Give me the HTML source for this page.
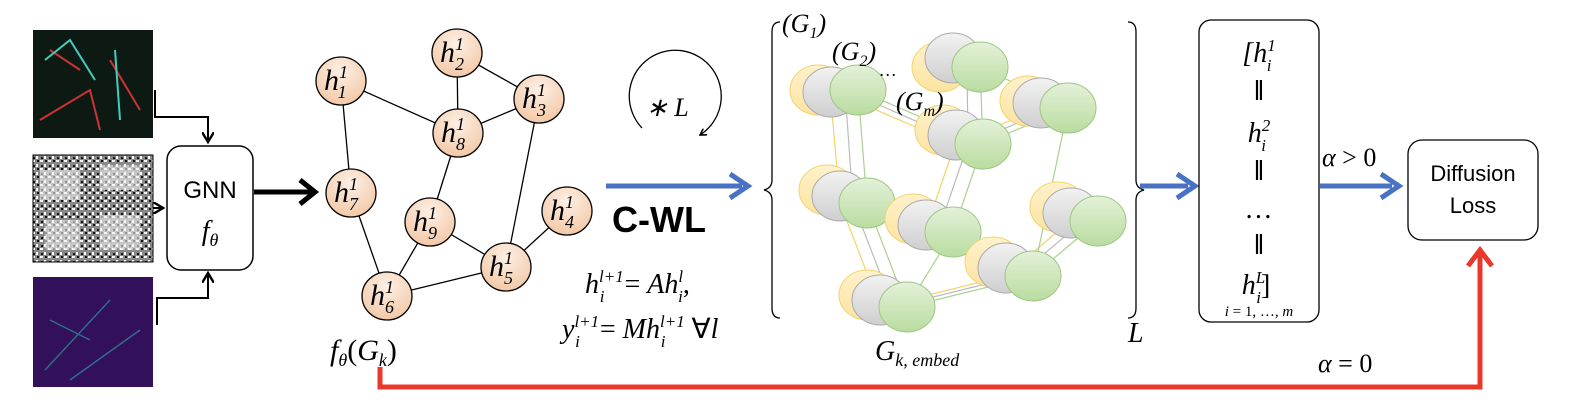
<!DOCTYPE html>
<html><head><meta charset="utf-8"><style>
body{margin:0;background:#fff;width:1580px;height:415px;overflow:hidden}
svg{display:block}
text{font-family:"Liberation Serif",serif;font-style:italic;fill:#000}
.s{font-family:"Liberation Sans",sans-serif;font-style:normal}
</style></head><body>
<svg width="1580" height="415" viewBox="0 0 1580 415">
<defs>
<radialGradient id="og" cx="50%" cy="30%" r="70%"><stop offset="0" stop-color="#fdf0e6"/><stop offset="1" stop-color="#f3c8a6"/></radialGradient>
<linearGradient id="gg" x1="0" y1="0" x2="0" y2="1"><stop offset="0" stop-color="#e4f1d9"/><stop offset="1" stop-color="#b9dca0"/></linearGradient>
<linearGradient id="yg" x1="0" y1="0" x2="0" y2="1"><stop offset="0" stop-color="#fff2cc"/><stop offset="1" stop-color="#fbe3a0"/></linearGradient>
<linearGradient id="gr" x1="0" y1="0" x2="0" y2="1"><stop offset="0" stop-color="#f2f2f2"/><stop offset="1" stop-color="#cfcfcf"/></linearGradient>
<pattern id="noise" width="8" height="8" patternUnits="userSpaceOnUse"><rect width="8" height="8" fill="#888"/><rect x="0" y="0" width="3" height="2" fill="#fff"/><rect x="4" y="4" width="2" height="3" fill="#fff"/><rect x="5" y="0" width="2" height="2" fill="#111"/><rect x="1" y="5" width="2" height="2" fill="#111"/></pattern>
<marker id="bk" markerWidth="6" markerHeight="6" refX="5" refY="3" orient="auto"><path d="M0,0 L5,3 L0,6" fill="none" stroke="#000" stroke-width="1.2"/></marker>
</defs>
<!-- input images -->
<rect x="33" y="30" width="120" height="108" fill="#0d1a14"/>
<path d="M40,120 L90,90 L100,130 M110,60 L140,110 M50,50 L80,70" stroke="#c33" stroke-width="2" fill="none"/>
<path d="M45,60 L70,40 L95,80 M115,50 L120,120" stroke="#4cb" stroke-width="2" fill="none"/>
<rect x="33" y="155" width="120" height="107" fill="url(#noise)" stroke="#000"/>
<path d="M40,170 h40 v30 h-40z M100,165 h40 v25 h-40z M45,220 h35 v30 h-35z M100,215 h40 v35 h-40z" fill="#eee" opacity="0.6"/>
<rect x="33" y="277" width="120" height="110" fill="#33105a"/>
<path d="M45,370 L110,300 M70,380 L140,330 M50,320 L90,340" stroke="#2d6e8a" stroke-width="1.5"/>
<!-- connectors -->
<path d="M155,90 V117 H208 V142" fill="none" stroke="#000" stroke-width="2" marker-end="url(#bk)"/>
<path d="M153,208 H163" stroke="#000" stroke-width="2" marker-end="url(#bk)"/>
<path d="M157,325 V298 H208 V273" fill="none" stroke="#000" stroke-width="2" marker-end="url(#bk)"/>
<rect x="167" y="146" width="86" height="124" rx="14" fill="#fff" stroke="#000" stroke-width="1.5"/>
<text class="s" x="210" y="198" font-size="24" text-anchor="middle">GNN</text>
<text x="210" y="240" font-size="28" text-anchor="middle">f<tspan font-size="18" dy="6">θ</tspan></text>
<path d="M254,192 H312" stroke="#000" stroke-width="5"/>
<path d="M300,180 L315,192 L300,204" fill="none" stroke="#000" stroke-width="5"/>
<!-- graph -->
<g stroke="#000" stroke-width="1.3">
<line x1="341" y1="81" x2="351" y2="193"/><line x1="341" y1="81" x2="458" y2="133"/>
<line x1="457" y1="53" x2="458" y2="133"/><line x1="457" y1="53" x2="539" y2="99"/>
<line x1="458" y1="133" x2="539" y2="99"/><line x1="539" y1="99" x2="506" y2="267"/>
<line x1="458" y1="133" x2="430" y2="222"/><line x1="430" y1="222" x2="387" y2="296"/>
<line x1="430" y1="222" x2="506" y2="267"/><line x1="351" y1="193" x2="387" y2="296"/>
<line x1="387" y1="296" x2="506" y2="267"/><line x1="506" y1="267" x2="567" y2="211"/>
</g>
<g font-size="30">
<g><ellipse cx="341" cy="81" rx="25" ry="24" fill="url(#og)" stroke="#000" stroke-width="1.3"/><text x="324" y="90">h<tspan font-size="18" dy="-12">1</tspan><tspan font-size="18" dx="-9" dy="20">1</tspan></text></g>
<g><ellipse cx="457" cy="53" rx="25" ry="24" fill="url(#og)" stroke="#000" stroke-width="1.3"/><text x="440" y="62">h<tspan font-size="18" dy="-12">1</tspan><tspan font-size="18" dx="-9" dy="20">2</tspan></text></g>
<g><ellipse cx="539" cy="99" rx="25" ry="24" fill="url(#og)" stroke="#000" stroke-width="1.3"/><text x="522" y="108">h<tspan font-size="18" dy="-12">1</tspan><tspan font-size="18" dx="-9" dy="20">3</tspan></text></g>
<g><ellipse cx="458" cy="133" rx="25" ry="24" fill="url(#og)" stroke="#000" stroke-width="1.3"/><text x="441" y="142">h<tspan font-size="18" dy="-12">1</tspan><tspan font-size="18" dx="-9" dy="20">8</tspan></text></g>
<g><ellipse cx="351" cy="193" rx="25" ry="24" fill="url(#og)" stroke="#000" stroke-width="1.3"/><text x="334" y="202">h<tspan font-size="18" dy="-12">1</tspan><tspan font-size="18" dx="-9" dy="20">7</tspan></text></g>
<g><ellipse cx="430" cy="222" rx="25" ry="24" fill="url(#og)" stroke="#000" stroke-width="1.3"/><text x="413" y="231">h<tspan font-size="18" dy="-12">1</tspan><tspan font-size="18" dx="-9" dy="20">9</tspan></text></g>
<g><ellipse cx="567" cy="211" rx="25" ry="24" fill="url(#og)" stroke="#000" stroke-width="1.3"/><text x="550" y="220">h<tspan font-size="18" dy="-12">1</tspan><tspan font-size="18" dx="-9" dy="20">4</tspan></text></g>
<g><ellipse cx="506" cy="267" rx="25" ry="24" fill="url(#og)" stroke="#000" stroke-width="1.3"/><text x="489" y="276">h<tspan font-size="18" dy="-12">1</tspan><tspan font-size="18" dx="-9" dy="20">5</tspan></text></g>
<g><ellipse cx="387" cy="296" rx="25" ry="24" fill="url(#og)" stroke="#000" stroke-width="1.3"/><text x="370" y="305">h<tspan font-size="18" dy="-12">1</tspan><tspan font-size="18" dx="-9" dy="20">6</tspan></text></g>
</g>
<text x="330" y="360" font-size="30">f<tspan font-size="18" dy="6">θ</tspan><tspan dy="-6" font-style="normal">(</tspan><tspan>G</tspan><tspan font-size="18" dy="6">k</tspan><tspan dy="-6" font-style="normal">)</tspan></text>
<!-- loop -->
<path d="M642,128 A46,46 0 1,1 700,135" fill="none" stroke="#000" stroke-width="1.3" marker-end="url(#bk)"/>
<text x="646" y="116" font-size="26">∗ L</text>
<path d="M606,186 H742" stroke="#4a72c4" stroke-width="5"/>
<path d="M730,174 L748,186 L730,198" fill="none" stroke="#4a72c4" stroke-width="5"/>
<text class="s" x="612" y="232" font-size="36" font-weight="bold">C-WL</text>
<text x="585" y="293" font-size="28">h<tspan font-size="17" dy="-11">l+1</tspan><tspan font-size="17" dx="-24" dy="20">i</tspan><tspan dx="20" dy="-9" font-style="normal">= </tspan><tspan>Ah</tspan><tspan font-size="17" dy="-11">l</tspan><tspan font-size="17" dx="-5" dy="20">i</tspan><tspan dy="-9" font-style="normal">,</tspan></text>
<text x="562" y="338" font-size="28">y<tspan font-size="17" dy="-11">l+1</tspan><tspan font-size="17" dx="-24" dy="20">i</tspan><tspan dx="20" dy="-9" font-style="normal">= </tspan><tspan>Mh</tspan><tspan font-size="17" dy="-11">l+1</tspan><tspan font-size="17" dx="-24" dy="20">i</tspan><tspan dx="26" dy="-9" font-style="normal">∀</tspan><tspan>l</tspan></text>
<!-- braces -->
<path d="M780,22 Q772,22 772,32 V180 Q772,188 764,190 Q772,192 772,200 V308 Q772,318 780,318" fill="none" stroke="#000" stroke-width="1.3"/>
<path d="M1128,22 Q1136,22 1136,32 V180 Q1136,188 1144,190 Q1136,192 1136,200 V308 Q1136,318 1128,318" fill="none" stroke="#000" stroke-width="1.3"/>
<text x="1128" y="342" font-size="28">L</text>
<!-- 3D cluster -->
<g stroke-width="1.2" fill="none">
<path d="M830,90 L840,203 L880,307 L1005,276 L1070,221 M840,203 L925,232 L955,144 L1040,108 M830,90 L955,144" stroke="#f5d36a"/>
<path d="M845,90 L853,203 L893,307 L1018,276 L1083,221 M853,203 L938,232 L968,144 L1053,108 M845,90 L968,144 M967,67 L968,144" stroke="#bbb"/>
<path d="M858,90 L867,203 L907,307 L1033,276 L1098,221 M867,203 L953,232 L983,144 L1068,108 M858,90 L983,144 M980,67 L983,144 M980,67 L1068,108 M1068,108 L1033,276 M907,307 L953,232" stroke="#a9d18e"/>
</g>
<g stroke-width="1">
<g><ellipse cx="818" cy="90" rx="28" ry="25" fill="url(#yg)" stroke="#f5d36a"/><ellipse cx="831" cy="92" rx="28" ry="25" fill="url(#gr)" stroke="#aaa"/><ellipse cx="858" cy="90" rx="28" ry="25" fill="url(#gg)" stroke="#9cc781"/></g>
<g><ellipse cx="940" cy="67" rx="28" ry="25" fill="url(#yg)" stroke="#f5d36a"/><ellipse cx="953" cy="58" rx="28" ry="25" fill="url(#gr)" stroke="#aaa"/><ellipse cx="980" cy="67" rx="28" ry="25" fill="url(#gg)" stroke="#9cc781"/></g>
<g><ellipse cx="1028" cy="101" rx="28" ry="25" fill="url(#yg)" stroke="#f5d36a"/><ellipse cx="1041" cy="103" rx="28" ry="25" fill="url(#gr)" stroke="#aaa"/><ellipse cx="1068" cy="108" rx="28" ry="25" fill="url(#gg)" stroke="#9cc781"/></g>
<g><ellipse cx="943" cy="130" rx="28" ry="25" fill="url(#yg)" stroke="#f5d36a"/><ellipse cx="956" cy="135" rx="28" ry="25" fill="url(#gr)" stroke="#aaa"/><ellipse cx="983" cy="144" rx="28" ry="25" fill="url(#gg)" stroke="#9cc781"/></g>
<g><ellipse cx="827" cy="190" rx="28" ry="25" fill="url(#yg)" stroke="#f5d36a"/><ellipse cx="840" cy="196" rx="28" ry="25" fill="url(#gr)" stroke="#aaa"/><ellipse cx="867" cy="203" rx="28" ry="25" fill="url(#gg)" stroke="#9cc781"/></g>
<g><ellipse cx="913" cy="219" rx="28" ry="25" fill="url(#yg)" stroke="#f5d36a"/><ellipse cx="926" cy="225" rx="28" ry="25" fill="url(#gr)" stroke="#aaa"/><ellipse cx="953" cy="232" rx="28" ry="25" fill="url(#gg)" stroke="#9cc781"/></g>
<g><ellipse cx="1058" cy="207" rx="28" ry="25" fill="url(#yg)" stroke="#f5d36a"/><ellipse cx="1071" cy="213" rx="28" ry="25" fill="url(#gr)" stroke="#aaa"/><ellipse cx="1098" cy="221" rx="28" ry="25" fill="url(#gg)" stroke="#9cc781"/></g>
<g><ellipse cx="993" cy="262" rx="28" ry="25" fill="url(#yg)" stroke="#f5d36a"/><ellipse cx="1006" cy="268" rx="28" ry="25" fill="url(#gr)" stroke="#aaa"/><ellipse cx="1033" cy="276" rx="28" ry="25" fill="url(#gg)" stroke="#9cc781"/></g>
<g><ellipse cx="867" cy="295" rx="28" ry="25" fill="url(#yg)" stroke="#f5d36a"/><ellipse cx="880" cy="300" rx="28" ry="25" fill="url(#gr)" stroke="#aaa"/><ellipse cx="907" cy="307" rx="28" ry="25" fill="url(#gg)" stroke="#9cc781"/></g>
</g>
<text x="782" y="32" font-size="26" font-style="normal">(<tspan font-style="italic">G</tspan><tspan font-size="16" dy="6">1</tspan><tspan dy="-6">)</tspan></text>
<text x="832" y="60" font-size="26" font-style="normal">(<tspan font-style="italic">G</tspan><tspan font-size="16" dy="6">2</tspan><tspan dy="-6">)</tspan></text>
<text x="880" y="76" font-size="18" font-style="normal">…</text>
<text x="896" y="110" font-size="26" font-style="normal">(<tspan font-style="italic">G</tspan><tspan font-size="16" dy="6" font-style="italic">m</tspan><tspan dy="-6">)</tspan></text>
<text x="875" y="360" font-size="28">G<tspan font-size="18" dy="6">k, embed</tspan></text>
<!-- concat box -->
<path d="M1140,186 H1188" stroke="#4a72c4" stroke-width="5"/>
<path d="M1177,174 L1195,186 L1177,198" fill="none" stroke="#4a72c4" stroke-width="5"/>
<rect x="1199" y="20" width="120" height="302" rx="12" fill="#fff" stroke="#000" stroke-width="1.3"/>
<g font-size="28" text-anchor="middle">
<text x="1259" y="62" font-style="normal">[<tspan font-style="italic">h</tspan><tspan font-size="17" dy="-11">1</tspan><tspan font-size="17" dx="-9" dy="20">i</tspan></text>
<text x="1259" y="100" font-style="normal" font-weight="bold">ǁ</text>
<text x="1259" y="142">h<tspan font-size="17" dy="-11">2</tspan><tspan font-size="17" dx="-9" dy="20">i</tspan></text>
<text x="1259" y="180" font-style="normal" font-weight="bold">ǁ</text>
<text x="1259" y="218" font-style="normal">…</text>
<text x="1259" y="254" font-style="normal" font-weight="bold">ǁ</text>
<text x="1256" y="294">h<tspan font-size="17" dy="-11">L</tspan><tspan font-size="17" dx="-9" dy="20">i</tspan><tspan font-style="normal" dy="-9">]</tspan></text>
<text x="1259" y="316" font-size="15">i <tspan font-style="normal">= 1, …,</tspan> m</text>
</g>
<path d="M1320,186 H1392" stroke="#4a72c4" stroke-width="5"/>
<path d="M1381,174 L1399,186 L1381,198" fill="none" stroke="#4a72c4" stroke-width="5"/>
<text x="1322" y="166" font-size="26">α <tspan font-style="normal">&gt; 0</tspan></text>
<rect x="1408" y="140" width="130" height="100" rx="14" fill="#fff" stroke="#000" stroke-width="1.3"/>
<text class="s" x="1473" y="181" font-size="22" text-anchor="middle">Diffusion</text>
<text class="s" x="1473" y="213" font-size="22" text-anchor="middle">Loss</text>
<!-- red path -->
<path d="M380,367 V387 H1480 V252" fill="none" stroke="#e8392b" stroke-width="5"/>
<path d="M1468,266 L1480,250 L1492,266" fill="none" stroke="#e8392b" stroke-width="5"/>
<text x="1318" y="372" font-size="26">α <tspan font-style="normal">= 0</tspan></text>
</svg>
</body></html>
